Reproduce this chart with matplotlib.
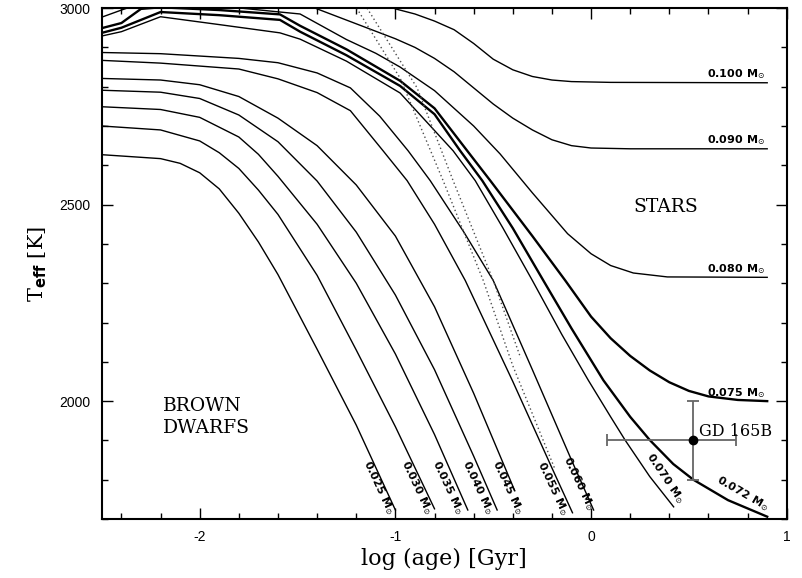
import numpy as np
import matplotlib.pyplot as plt
from matplotlib.ticker import MultipleLocator

plt.rcParams['axes.unicode_minus'] = False

# Evolutionary tracks: log(age) [Gyr] vs Teff [K], one pair per mass
age_025 = [-2.5, -2.2, -2.1, -2.0, -1.9, -1.8, -1.7, -1.6, -1.4, -1.2, -1.0]
teff_025 = [2627, 2617, 2605, 2581, 2540, 2478, 2405, 2322, 2132, 1939, 1723]

age_030 = [-2.5, -2.2, -2.0, -1.9, -1.8, -1.7, -1.6, -1.4, -1.2, -1.0, -0.8]
teff_030 = [2700, 2690, 2662, 2632, 2592, 2537, 2475, 2320, 2130, 1935, 1726]

age_035 = [-2.5, -2.2, -2.0, -1.8, -1.7, -1.6, -1.4, -1.2, -1.0, -0.8, -0.63]
teff_035 = [2749, 2742, 2722, 2672, 2628, 2572, 2450, 2300, 2120, 1915, 1723]

age_040 = [-2.5, -2.2, -2.0, -1.8, -1.6, -1.4, -1.2, -1.0, -0.8, -0.6, -0.48]
teff_040 = [2791, 2786, 2770, 2728, 2660, 2560, 2430, 2270, 2080, 1860, 1723]

age_045 = [-2.5, -2.2, -2.0, -1.8, -1.6, -1.4, -1.2, -1.0, -0.8, -0.6, -0.39]
teff_045 = [2821, 2817, 2805, 2775, 2720, 2650, 2550, 2420, 2240, 2020, 1772]

age_055 = [-2.5, -2.2, -1.8, -1.6, -1.4, -1.23, -1.063, -0.94, -0.8, -0.643, -0.4, -0.2, -0.095]
teff_055 = [2867, 2860, 2845, 2820, 2785, 2739, 2637, 2561, 2450, 2307, 2050, 1830, 1716]

age_060 = [-2.5, -2.2, -1.8, -1.6, -1.4, -1.23, -1.08, -0.935, -0.822, -0.65, -0.5, -0.3, -0.1, 0.013]
teff_060 = [2887, 2884, 2872, 2861, 2835, 2797, 2725, 2637, 2561, 2430, 2307, 2080, 1850, 1723]

age_070 = [-2.5, -2.4, -2.2, -1.9, -1.59, -1.487, -1.25, -0.976, -0.705, -0.592, -0.45, -0.3,
           -0.15, -0.014, 0.1, 0.175, 0.3, 0.422]
teff_070 = [2929, 2940, 2978, 2958, 2937, 2921, 2865, 2784, 2637, 2561, 2440, 2307,
            2170, 2053, 1960, 1900, 1808, 1731]

age_072 = [-2.5, -2.4, -2.2, -1.9, -1.59, -1.487, -1.25, -0.976, -0.8, -0.669, -0.556, -0.4,
           -0.244, -0.1, 0.063, 0.2, 0.3, 0.42, 0.523, 0.7, 0.9]
teff_072 = [2937, 2950, 2990, 2982, 2970, 2940, 2880, 2802, 2730, 2637, 2561, 2440,
            2307, 2185, 2053, 1960, 1901, 1840, 1800, 1748, 1706]

age_075 = [-2.5, -2.4, -2.3, -2.2, -1.9, -1.59, -1.487, -1.25, -0.976, -0.8, -0.633, -0.515,
           -0.3, -0.132, 0.0, 0.1, 0.2, 0.3, 0.4, 0.5, 0.6, 0.75, 0.9]
teff_075 = [2949, 2962, 2998, 3002, 2995, 2984, 2955, 2895, 2815, 2745, 2637, 2561,
            2420, 2307, 2215, 2160, 2115, 2078, 2048, 2026, 2012, 2003, 2000]

age_080 = [-2.5, -2.4, -2.3, -2.0, -1.79, -1.59, -1.487, -1.25, -1.1, -0.976, -0.8, -0.6,
           -0.465, -0.3, -0.12, 0.0, 0.1, 0.216, 0.39, 0.9]
teff_080 = [2977, 2995, 3012, 3025, 3000, 2990, 2985, 2920, 2885, 2850, 2790, 2700,
            2629, 2530, 2426, 2375, 2345, 2326, 2316, 2315]

age_090 = [-1.6, -1.4, -1.2, -1.0, -0.9, -0.8, -0.7, -0.6, -0.5, -0.4, -0.3, -0.2, -0.1,
           0.0, 0.2, 0.9]
teff_090 = [3040, 2998, 2960, 2922, 2900, 2872, 2838, 2797, 2756, 2720, 2690, 2665, 2650,
            2644, 2642, 2642]

age_100 = [-1.2, -1.0, -0.9, -0.8, -0.7, -0.6, -0.5, -0.4, -0.3, -0.2, -0.1, 0.1, 0.9]
teff_100 = [3060, 2998, 2985, 2967, 2945, 2910, 2870, 2843, 2826, 2817, 2813, 2811, 2810]

# Dotted boundaries
dot1_age = [-1.198, -0.976, -0.756, -0.551, -0.40, -0.183]
dot1_teff = [3000, 2822, 2561, 2307, 2090, 1825]
dot2_age = [-1.145, -0.889, -0.705, -0.5, -0.36]
dot2_teff = [3000, 2797, 2561, 2307, 2110]

# GD 165B
gd_age = 0.523
gd_teff = 1900
gd_age_err = [[0.44], [0.22]]
gd_teff_err = [[100], [100]]

fig = plt.figure(figsize=(8.02, 5.78), dpi=100)
ax = fig.add_axes([0.127, 0.102, 0.854, 0.884])

thin = [(age_025, teff_025), (age_030, teff_030), (age_035, teff_035), (age_040, teff_040),
        (age_045, teff_045), (age_055, teff_055), (age_060, teff_060), (age_070, teff_070),
        (age_080, teff_080), (age_090, teff_090), (age_100, teff_100)]
for a, t in thin:
    ax.plot(a, t, color='k', lw=1.0)
ax.plot(age_072, teff_072, color='k', lw=1.7)
ax.plot(age_075, teff_075, color='k', lw=1.7)

ax.plot(dot1_age, dot1_teff, color='0.3', lw=1.0, ls=(0, (1, 2)))
ax.plot(dot2_age, dot2_teff, color='0.3', lw=1.0, ls=(0, (1, 2)))

ax.errorbar(gd_age, gd_teff, xerr=gd_age_err, yerr=gd_teff_err, fmt='o', color='k',
            ecolor='0.4', elinewidth=1.3, capsize=4, capthick=1.3, ms=6)

# Mass labels
mfont = dict(family='DejaVu Sans', weight='bold', size=8)
ms = ' M$_{\\odot}$'
right_labels = [('0.100', 0.89, 2815), ('0.090', 0.89, 2646), ('0.080', 0.89, 2318),
                ('0.075', 0.89, 2004)]
for txt, x, y in right_labels:
    ax.text(x, y, txt + ms, ha='right', va='bottom', **mfont)

bd_labels = [('0.025', -0.99, 1722), ('0.030', -0.795, 1720), ('0.035', -0.64, 1720),
             ('0.040', -0.485, 1720), ('0.045', -0.33, 1720), ('0.055', -0.103, 1718),
             ('0.060', 0.03, 1732)]
for txt, x, y in bd_labels:
    ax.text(x, y, txt + ms, ha='right', va='top', rotation=-65,
            rotation_mode='anchor', **mfont)

ax.text(0.43, 1732, '0.070' + ms, ha='right', va='bottom', rotation=-56,
        rotation_mode='anchor', **mfont)
ax.text(0.885, 1712, '0.072' + ms, ha='right', va='bottom', rotation=-30,
        rotation_mode='anchor', **mfont)

sfont = dict(family='DejaVu Serif', size=13.5)
ax.text(0.38, 2495, 'STARS', ha='center', va='center', **sfont)
ax.text(-2.19, 1960, 'BROWN\nDWARFS', ha='left', va='center', linespacing=1.25, **sfont)
ax.text(0.55, 1924, 'GD 165B', ha='left', va='center', family='DejaVu Serif', size=11.5)

ax.set_xlim(-2.5, 1.0)
ax.set_ylim(1700, 3000)
ax.xaxis.set_major_locator(MultipleLocator(1))
ax.xaxis.set_minor_locator(MultipleLocator(0.2))
ax.yaxis.set_major_locator(MultipleLocator(500))
ax.yaxis.set_minor_locator(MultipleLocator(100))
ax.tick_params(which='both', direction='in', top=True, right=True, width=1)
ax.tick_params(which='major', length=8, labelsize=10, pad=8)
ax.tick_params(which='minor', length=4)
for lab in ax.get_xticklabels() + ax.get_yticklabels():
    lab.set_family('Liberation Sans')
for s in ax.spines.values():
    s.set_linewidth(1.5)

ax.set_xlabel('log (age) [Gyr]', family='DejaVu Serif', size=16, labelpad=3)
ax.set_ylabel('T$_{\\mathbf{eff}}$ [K]', family='DejaVu Serif', size=15, labelpad=8)

fig.savefig('out.png', dpi=100)
